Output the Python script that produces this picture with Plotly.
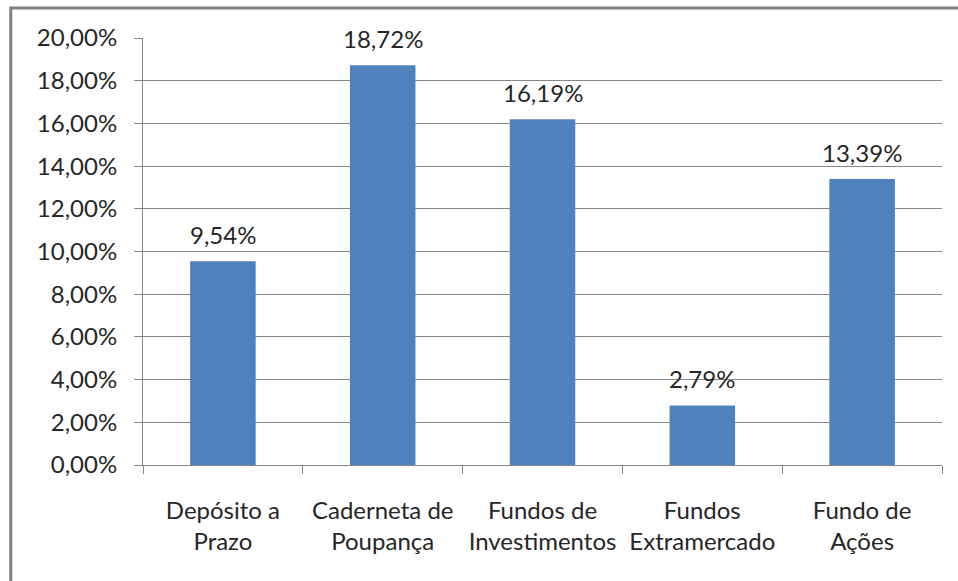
import plotly.graph_objects as go

categories = ["Depósito a<br>Prazo", "Caderneta de<br>Poupança", "Fundos de<br>Investimentos",
              "Fundos<br>Extramercado", "Fundo de<br>Ações"]
values = [0.0954, 0.1872, 0.1619, 0.0279, 0.1339]
labels = [f"{v*100:.2f}".replace(".", ",") + "%" for v in values]

FONT = "Lato"
TXT = "#262626"
GRID = "#868686"

fig = go.Figure()
fig.add_trace(go.Bar(x=categories, y=values, width=0.41, hoverinfo="skip",
                     marker=dict(color="#4F81BD", line=dict(width=0))))

annotations = [dict(x=c, y=v, text=t, showarrow=False, xref="x", yref="y",
                    yanchor="bottom", yshift=10,
                    font=dict(family=FONT, size=24, color=TXT))
               for c, v, t in zip(categories, values, labels)]

fig.update_layout(
    width=958, height=581,
    margin=dict(l=143, r=16, t=38, b=116),
    paper_bgcolor="white", plot_bgcolor="white",
    separators=",.",
    showlegend=False,
    font=dict(family=FONT, size=24, color=TXT),
    annotations=annotations,
    shapes=[dict(type="rect", xref="paper", yref="paper",
                 x0=-0.1655, x1=1.2, y0=1.0705, y1=-0.5,
                 line=dict(color="#808080", width=3))],
    bargap=0.59,
)
fig.update_yaxes(range=[0, 0.2], dtick=0.02, tickformat=".2%",
                 showgrid=True, gridcolor=GRID, gridwidth=1,
                 showline=True, linecolor=GRID, linewidth=1,
                 ticks="outside", ticklen=8, tickcolor=GRID,
                 ticklabelstandoff=12, zeroline=False,
                 tickfont=dict(family=FONT, size=24, color=TXT))
fig.update_xaxes(showline=True, linecolor=GRID, linewidth=1,
                 ticks="outside", ticklen=8, tickcolor=GRID,
                 tickson="boundaries", showgrid=False,
                 ticklabelstandoff=24,
                 tickfont=dict(family=FONT, size=24, color=TXT))

fig.write_html("out.html", config={"displayModeBar": False, "staticPlot": True},
               post_script="document.body.style.margin='0';document.body.style.overflow='hidden';")
